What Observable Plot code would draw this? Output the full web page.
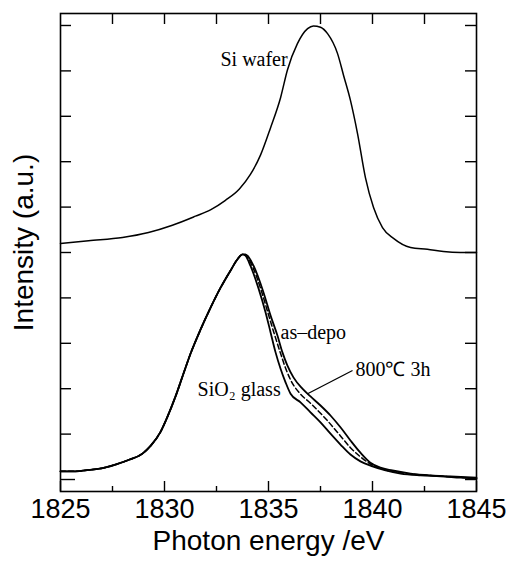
<!DOCTYPE html>
<html>
<head>
<meta charset="utf-8">
<script src="https://cdn.jsdelivr.net/npm/d3@7"></script>
<script src="https://cdn.jsdelivr.net/npm/@observablehq/plot@0.6"></script>
<style>
  html, body { margin: 0; padding: 0; background: #fff; }
</style>
</head>
<body>
<div id="chart"></div>
<script>
// ---- Data ----
// Si wafer spectrum (offset upward)
const siWaferE = [1825.00,1826.35,1827.98,1829.23,1830.38,1831.49,1832.21,1832.93,1833.60,1834.13,1834.62,1835.10,1835.58,1835.91,1836.39,1836.88,1837.16,1837.50,1837.84,1838.32,1838.61,1838.94,1839.28,1839.66,1840.05,1840.48,1841.01,1841.83,1842.64,1843.41,1844.23,1845.00];
const siWaferI = [5.20,5.26,5.33,5.44,5.60,5.80,5.94,6.15,6.40,6.72,7.15,7.75,8.41,9.02,9.60,9.93,9.99,9.96,9.82,9.38,8.90,8.35,7.62,6.65,5.99,5.55,5.31,5.11,5.07,5.02,5.00,5.00];

// common rising edge of the three lower spectra
const riseE = [1825.00,1825.72,1826.35,1827.02,1827.64,1828.27,1828.94,1829.33,1829.81,1830.14,1830.53,1830.91,1831.25,1831.73,1832.21,1832.69,1833.17,1833.51,1833.75];
const riseI = [0.18,0.18,0.21,0.25,0.33,0.43,0.57,0.74,1.05,1.38,1.83,2.33,2.77,3.30,3.78,4.22,4.60,4.85,4.96];

// SiO2 glass falling side
const glassE = [1833.89,1834.13,1834.52,1834.86,1835.10,1835.34,1835.58,1835.82,1836.06,1836.54,1837.02,1837.50,1837.98,1838.46,1838.94,1839.42,1840.00,1840.63,1841.35,1842.31,1843.27,1844.23,1845.00];
const glassI = [4.93,4.71,4.21,3.68,3.24,2.80,2.44,2.14,1.89,1.70,1.48,1.26,1.01,0.77,0.55,0.40,0.29,0.20,0.13,0.09,0.07,0.04,0.02];

// as-depo falling side
const asDepoE = [1833.89,1834.28,1834.76,1835.10,1835.43,1835.67,1835.91,1836.20,1836.63,1837.02,1837.50,1837.98,1838.46,1838.94,1839.42,1839.90,1840.38,1840.96,1841.83,1842.79,1843.75,1845.00];
const asDepoI = [4.96,4.71,4.12,3.61,3.17,2.80,2.51,2.25,2.00,1.83,1.63,1.41,1.15,0.86,0.59,0.37,0.26,0.20,0.13,0.09,0.07,0.04];

// 800℃ 3h falling side
const annealE = [1833.89,1834.20,1834.64,1834.98,1835.27,1835.55,1835.80,1836.10,1836.54,1837.02,1837.50,1837.98,1838.46,1838.94,1839.42,1839.90,1840.48,1841.35,1842.79,1845.00];
const annealI = [4.94,4.72,4.18,3.66,3.22,2.82,2.48,2.16,1.88,1.68,1.46,1.22,0.96,0.70,0.50,0.34,0.23,0.15,0.09,0.03];

// ticks
const xTicks = [1825, 1830, 1835, 1840, 1845];
const xMinorTicks = [1827.5, 1832.5, 1837.5, 1842.5];
const xTopTicks = [1827.5, 1830, 1832.5, 1835, 1837.5, 1840, 1842.5];
const yTicks = [0, 1, 2, 3, 4, 5, 6, 7, 8, 9, 10];

const xLabel = "Photon energy /eV";
const yLabel = "Intensity (a.u.)";

// ---- build rows ----
const zip = (E, I) => E.map((e, i) => ({E: e, I: I[i]}));
const siRows = zip(siWaferE, siWaferI);
const glassRows = zip(riseE, riseI).concat(zip(glassE, glassI));
const asDepoRows = zip(riseE, riseI).concat(zip(asDepoE, asDepoI));
const annealRows = zip(riseE, riseI).concat(zip(annealE, annealI));

// ---- layout ----
const W = 510, H = 561;
const mL = 60, mR = 34, mT = 13, mB = 70;
const innerW = W - mL - mR;
const innerH = H - mT - mB;

const serif = "'Liberation Serif', 'Times New Roman', Times, serif";
const sans = "'Liberation Sans', Arial, Helvetica, sans-serif";

const chart = Plot.plot({
  width: W,
  height: H,
  marginLeft: mL,
  marginRight: mR,
  marginTop: mT,
  marginBottom: mB,
  style: {background: "#fff", color: "#000", fontFamily: sans},
  x: {domain: [1825, 1845]},
  y: {domain: [-0.264, 10.264], axis: null},
  marks: [
    Plot.line(siRows, {x: "E", y: "I", stroke: "#000", strokeWidth: 1.5, curve: "monotone-x"}),
    Plot.line(glassRows, {x: "E", y: "I", stroke: "#000", strokeWidth: 1.8, curve: "monotone-x"}),
    Plot.line(annealRows, {x: "E", y: "I", stroke: "#000", strokeWidth: 1.5, strokeDasharray: "5,3", curve: "monotone-x"}),
    Plot.line(asDepoRows, {x: "E", y: "I", stroke: "#000", strokeWidth: 1.8, curve: "monotone-x"}),

    Plot.frame({stroke: "#000", strokeWidth: 1.6}),
    // bottom ticks (inward)
    Plot.tickX(xTicks, {x: d => d, insetTop: innerH - 10, stroke: "#000", strokeWidth: 1.4}),
    Plot.tickX(xMinorTicks, {x: d => d, insetTop: innerH - 5, stroke: "#000", strokeWidth: 1.4}),
    // top ticks (inward)
    Plot.tickX(xTopTicks, {x: d => d, insetBottom: innerH - 11, stroke: "#000", strokeWidth: 1.4}),
    // left ticks
    Plot.tickY(yTicks.filter(d => d > 0), {y: d => d, insetRight: innerW - 11, stroke: "#000", strokeWidth: 1.4}),
    Plot.tickY(yTicks.filter(d => d === 0), {y: d => d, insetRight: innerW - 15, stroke: "#000", strokeWidth: 1.4}),
    // right ticks
    Plot.tickY(yTicks, {y: d => d, insetLeft: innerW - 11, stroke: "#000", strokeWidth: 1.4}),

    Plot.axisX(xTicks, {tickSize: 0, tickPadding: 7, fontSize: 27, label: null, fontFamily: sans, tickFormat: d => String(d)}),

    Plot.text([xLabel], {frameAnchor: "bottom", dy: 58, fontSize: 28, fontFamily: sans, fill: "#000"}),
    Plot.text([yLabel], {frameAnchor: "left", textAnchor: "middle", rotate: -90, dx: -36, dy: -10, fontSize: 28, fontFamily: sans, fill: "#000"}),

    // annotations
    Plot.text(["Si wafer"], {x: 1832.69, y: 9.25, textAnchor: "start", fontSize: 20, fontFamily: serif, fill: "#000"}),
    Plot.text(["as\u2013depo"], {x: 1835.58, y: 3.24, textAnchor: "start", fontSize: 20, fontFamily: serif, fill: "#000"}),
    Plot.text(["800\u2103 3h"], {x: 1839.18, y: 2.42, textAnchor: "start", fontSize: 20, fontFamily: serif, fill: "#000"}),
    Plot.text(["SiO\u2082 glass"], {x: 1831.59, y: 1.98, textAnchor: "start", fontSize: 20, fontFamily: serif, fill: "#000"}),
    Plot.link([{x1: 1839.04, y1: 2.40, x2: 1836.88, y2: 1.89}], {x1: "x1", y1: "y1", x2: "x2", y2: "y2", stroke: "#000", strokeWidth: 1.3})
  ]
});

document.getElementById("chart").appendChild(chart);
</script>
</body>
</html>
